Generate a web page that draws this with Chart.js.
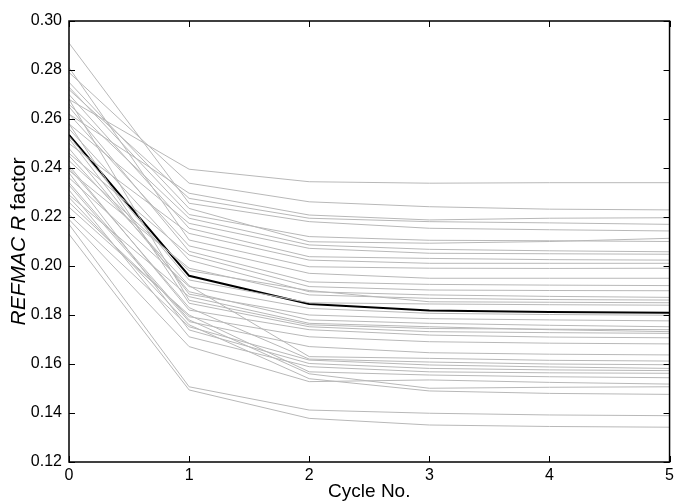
<!DOCTYPE html>
<html>
<head>
<meta charset="utf-8">
<script src="https://cdn.jsdelivr.net/npm/chart.js@4"></script>
<style>
  html, body { margin: 0; padding: 0; background: #fff; }
  #wrap { width: 678px; height: 503px; }
</style>
</head>
<body>
<div id="wrap"><canvas id="rChart" width="678" height="503"></canvas></div>
<script>
// refinement cycles
const cycles = [0, 1, 2, 3, 4, 5];

// one R factor run per structure
const runs = [
  [0.268, 0.2395, 0.2344, 0.2338, 0.2340, 0.2340],
  [0.279, 0.2338, 0.2262, 0.2242, 0.2232, 0.2229],
  [0.262, 0.2297, 0.2208, 0.2188, 0.2195, 0.2197],
  [0.272, 0.2276, 0.2195, 0.2181, 0.2176, 0.2170],
  [0.291, 0.2256, 0.2181, 0.2154, 0.2148, 0.2143],
  [0.275, 0.2235, 0.2099, 0.2093, 0.2100, 0.2113],
  [0.273, 0.2210, 0.2120, 0.2105, 0.2103, 0.2100],
  [0.266, 0.2195, 0.2086, 0.2068, 0.2062, 0.2058],
  [0.258, 0.2174, 0.2072, 0.2052, 0.2050, 0.2048],
  [0.270, 0.2154, 0.2038, 0.2031, 0.2026, 0.2024],
  [0.250, 0.2133, 0.2024, 0.2011, 0.2011, 0.2011],
  [0.281, 0.2106, 0.1997, 0.1991, 0.1990, 0.1991],
  [0.262, 0.2082, 0.1970, 0.1950, 0.1950, 0.1950],
  [0.265, 0.2060, 0.1935, 0.1925, 0.1922, 0.1920],
  [0.246, 0.2045, 0.1916, 0.1902, 0.1900, 0.1899],
  [0.256, 0.2024, 0.1895, 0.1882, 0.1876, 0.1872],
  [0.239, 0.1991, 0.1882, 0.1868, 0.1863, 0.1861],
  [0.243, 0.1981, 0.1900, 0.1854, 0.1852, 0.1850],
  [0.253, 0.1943, 0.1850, 0.1845, 0.1842, 0.1840],
  [0.236, 0.1916, 0.1827, 0.1807, 0.1802, 0.1799],
  [0.252, 0.1885, 0.1800, 0.1785, 0.1780, 0.1776],
  [0.248, 0.1895, 0.1780, 0.1766, 0.1758, 0.1752],
  [0.268, 0.1860, 0.1760, 0.1745, 0.1742, 0.1740],
  [0.229, 0.1875, 0.1766, 0.1752, 0.1740, 0.1732],
  [0.258, 0.1848, 0.1752, 0.1732, 0.1728, 0.1725],
  [0.241, 0.1820, 0.1740, 0.1718, 0.1710, 0.1707],
  [0.226, 0.1793, 0.1711, 0.1691, 0.1685, 0.1682],
  [0.233, 0.1773, 0.1671, 0.1646, 0.1640, 0.1637],
  [0.245, 0.1920, 0.1630, 0.1623, 0.1615, 0.1612],
  [0.240, 0.1830, 0.1620, 0.1608, 0.1600, 0.1597],
  [0.221, 0.1752, 0.1616, 0.1596, 0.1588, 0.1582],
  [0.238, 0.1739, 0.1602, 0.1582, 0.1576, 0.1573],
  [0.231, 0.1711, 0.1589, 0.1568, 0.1564, 0.1562],
  [0.224, 0.1800, 0.1568, 0.1555, 0.1548, 0.1544],
  [0.219, 0.1671, 0.1528, 0.1535, 0.1525, 0.1518],
  [0.234, 0.1780, 0.1560, 0.1501, 0.1505, 0.1507],
  [0.228, 0.1760, 0.1540, 0.1490, 0.1480, 0.1476],
  [0.217, 0.1507, 0.1412, 0.1399, 0.1392, 0.1389],
  [0.213, 0.1494, 0.1378, 0.1351, 0.1345, 0.1342]
];

// average run (thick black line)
const meanRun = [0.2535, 0.1960, 0.1845, 0.1818, 0.1812, 0.1809];

const yTicks = [0.12, 0.14, 0.16, 0.18, 0.20, 0.22, 0.24, 0.26, 0.28, 0.30];

const FONT = "'Liberation Sans', Arial, sans-serif";

function toPoints(vals) {
    return vals.map((v, i) => ({ x: cycles[i], y: v }));
}

let datasets = runs.map(r => ({
    data: toPoints(r),
    borderColor: "#b8b8b8",
    borderWidth: 1,
    pointRadius: 0,
    tension: 0
}));
datasets.push({
    data: toPoints(meanRun),
    borderColor: "#000000",
    borderWidth: 2,
    pointRadius: 0,
    tension: 0
});

// matplotlib style: box round the plot, ticks pointing in on all four sides
const frameTicks = {
    id: "frameTicks",
    afterDraw(chart) {
        const ctx = chart.ctx;
        const a = chart.chartArea;
        const xs = chart.scales.x, ys = chart.scales.y;
        const len = 6;
        ctx.save();
        ctx.strokeStyle = "#000";
        ctx.lineWidth = 1;
        ctx.beginPath();
        cycles.forEach(c => {
            const px = Math.round(xs.getPixelForValue(c)) + 0.5;
            ctx.moveTo(px, a.bottom); ctx.lineTo(px, a.bottom - len);
            ctx.moveTo(px, a.top); ctx.lineTo(px, a.top + len);
        });
        yTicks.forEach(t => {
            const py = Math.round(ys.getPixelForValue(t)) + 0.5;
            ctx.moveTo(a.left, py); ctx.lineTo(a.left + len, py);
            ctx.moveTo(a.right, py); ctx.lineTo(a.right - len, py);
        });
        ctx.stroke();
        ctx.lineWidth = 1.5;
        ctx.strokeRect(a.left, a.top, a.right - a.left, a.bottom - a.top);

        // y axis label with italic REFMAC and R
        const parts = [
            { t: "REFMAC", f: "italic 21px " + FONT },
            { t: " ", f: "21px " + FONT },
            { t: "R", f: "italic 21px " + FONT },
            { t: " factor", f: "21px " + FONT }
        ];
        let total = 0;
        parts.forEach(p => { ctx.font = p.f; p.w = ctx.measureText(p.t).width; total += p.w; });
        ctx.translate(25, (a.top + a.bottom) / 2);
        ctx.rotate(-Math.PI / 2);
        ctx.fillStyle = "#000";
        ctx.textBaseline = "alphabetic";
        ctx.textAlign = "left";
        let x = -total / 2;
        parts.forEach(p => { ctx.font = p.f; ctx.fillText(p.t, x, 0); x += p.w; });
        ctx.restore();
    }
};

const ctx = document.getElementById("rChart").getContext("2d");
const chart = new Chart(ctx, {
    type: "line",
    data: { datasets: datasets },
    options: {
        responsive: false,
        animation: false,
        events: [],
        layout: { padding: { top: 21, right: 6, left: 0, bottom: 0 } },
        plugins: {
            legend: { display: false },
            tooltip: { enabled: false }
        },
        scales: {
            x: {
                type: "linear",
                min: 0,
                max: 5,
                afterFit(s) { s.height = 41; },
                afterBuildTicks(s) { s.ticks = cycles.map(v => ({ value: v })); },
                grid: { display: false, drawTicks: false },
                border: { display: false },
                ticks: {
                    color: "#000",
                    font: { family: FONT, size: 16 },
                    padding: 4,
                    maxRotation: 0,
                    callback: v => String(v)
                },
                title: {
                    display: true,
                    text: "Cycle No.",
                    color: "#000",
                    font: { family: FONT, size: 19 },
                    padding: { top: 0, bottom: 0 }
                }
            },
            y: {
                min: 0.12,
                max: 0.30,
                afterFit(s) { s.width = 69; },
                afterBuildTicks(s) { s.ticks = yTicks.map(v => ({ value: v })); },
                grid: { display: false, drawTicks: false },
                border: { display: false },
                ticks: {
                    color: "#000",
                    font: { family: FONT, size: 16 },
                    padding: 7,
                    callback: v => v.toFixed(2)
                }
            }
        }
    },
    plugins: [frameTicks]
});
</script>
</body>
</html>
